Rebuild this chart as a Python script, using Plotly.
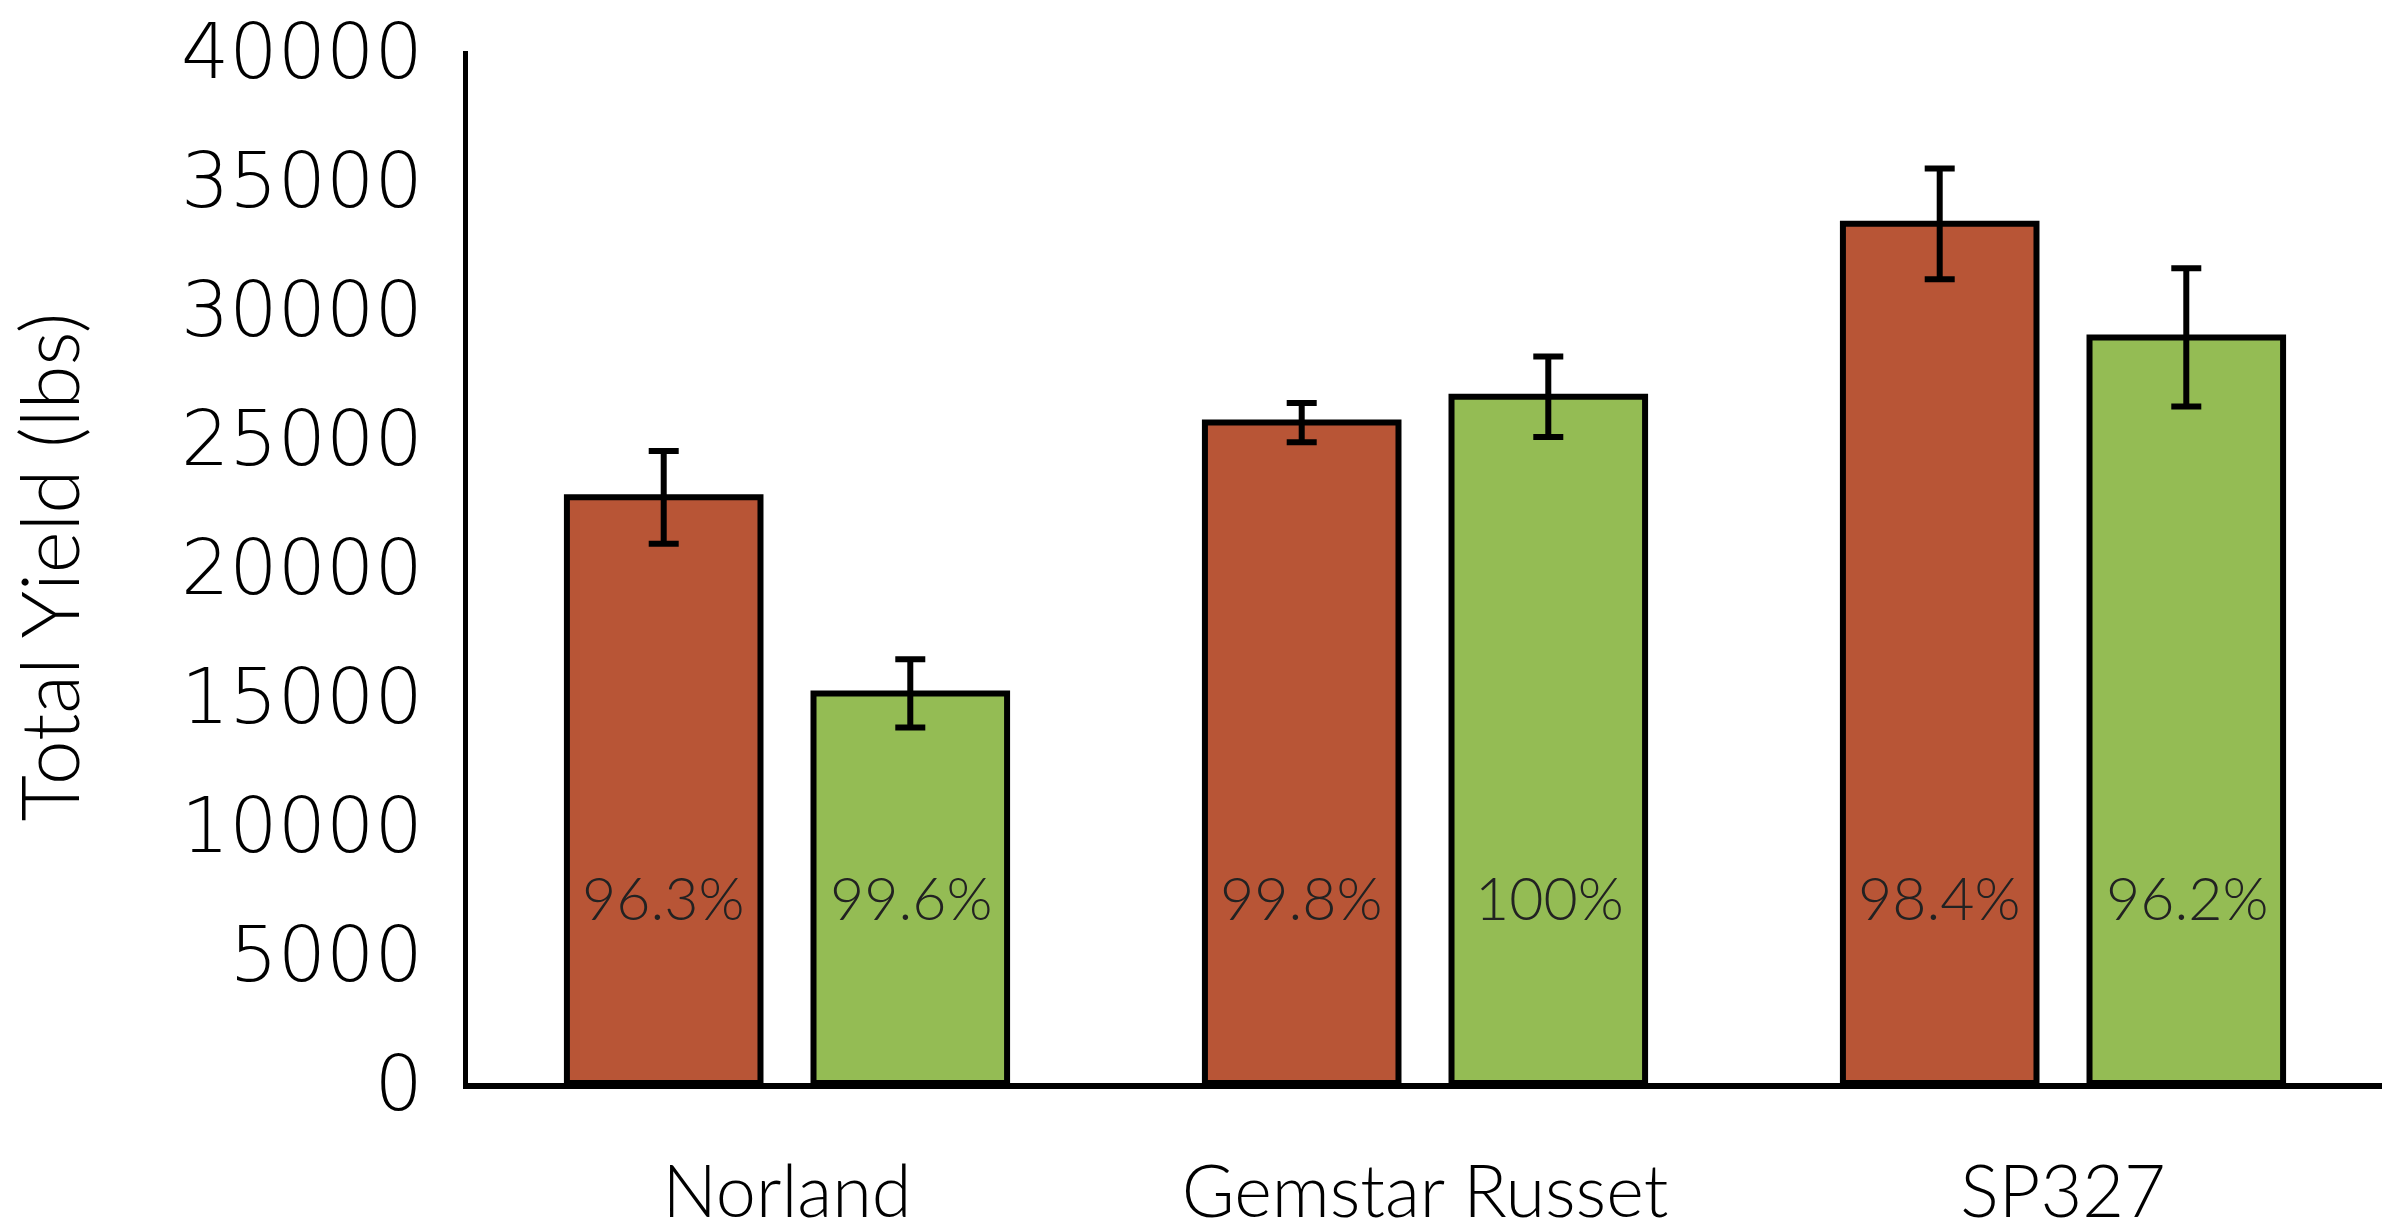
import plotly.graph_objects as go

categories = ["Norland", "Gemstar Russet", "SP327"]
red_values = [22700, 25600, 33300]
red_errors = [1800, 760, 2150]
green_values = [15100, 26600, 28900]
green_errors = [1320, 1560, 2680]
red_labels = ["96.3%", "99.8%", "98.4%"]
green_labels = ["99.6%", "100%", "96.2%"]
y_ticks = [0, 5000, 10000, 15000, 20000, 25000, 30000, 35000, 40000]

RED = "#B85536"
GREEN = "#94BC54"
FONT = "Lato"
DIGIT_FONT = "DejaVu Sans Light, DejaVu Sans ExtraLight, Lato"

fig = go.Figure()
for vals, errs, col in [(red_values, red_errors, RED), (green_values, green_errors, GREEN)]:
    fig.add_trace(go.Bar(
        x=categories, y=vals,
        marker=dict(color=col, line=dict(color="black", width=6)),
        error_y=dict(type="data", array=errs, visible=True, color="black",
                     thickness=6, width=15),
        showlegend=False, hoverinfo="skip",
    ))

label_y = 7200
for labels, shift in [(red_labels, -124), (green_labels, 124)]:
    for cat, lab in zip(categories, labels):
        fig.add_annotation(x=cat, y=label_y, text=lab, showarrow=False,
                           xshift=shift, xref="x", yref="y",
                           font=dict(family=FONT, size=59, color="#222222", weight=300))

fig.update_layout(
    width=2382, height=1231,
    margin=dict(l=468, r=0, t=51, b=148),
    paper_bgcolor="white", plot_bgcolor="white",
    barmode="group", bargap=0.227, bargroupgap=0.215,
    font=dict(family=FONT, size=76, color="black", weight=300),
)
fig.update_xaxes(
    type="category", range=[-0.5, 2.5], automargin=False,
    showline=True, linecolor="black", linewidth=6,
    showgrid=False, ticks="", ticklabelstandoff=42,
    tickfont=dict(family=FONT, size=72, color="black", weight=300),
)
fig.update_yaxes(
    range=[0, 40000], tickvals=y_ticks, ticktext=[str(v) for v in y_ticks],
    automargin=False,
    showline=True, linecolor="black", linewidth=5,
    showgrid=False, zeroline=False, ticks="", ticklabelstandoff=25,
    tickfont=dict(family=DIGIT_FONT, size=76, color="black", weight=200),
    title=dict(text="Total Yield (lbs)", standoff=82,
               font=dict(family=FONT, size=80, color="black", weight=300)),
)

fig.write_html("out.html", config={"displayModeBar": False},
               post_script="document.body.style.margin='0';")
